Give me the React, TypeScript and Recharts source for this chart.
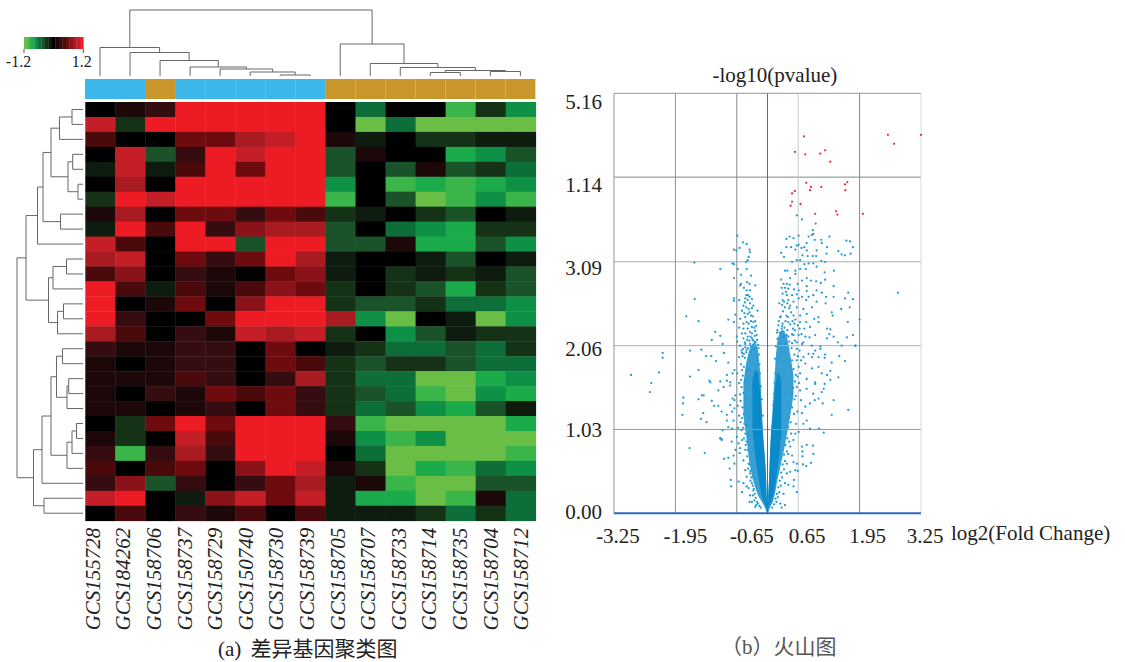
import { Area, Bar, BarChart, Cell, ComposedChart, ReferenceLine, Scatter, ScatterChart, XAxis, YAxis, ZAxis } from "recharts";

const SERIF = '"Liberation Serif", "Noto Sans CJK SC", serif';

const sampleNames = ["GCS155728", "GCS184262", "GCS158706", "GCS158737", "GCS158729", "GCS150740", "GCS158730", "GCS158739", "GCS158705", "GCS158707", "GCS158733", "GCS158714", "GCS158735", "GCS158704", "GCS158712"];
const sampleGroups = ["blue", "blue", "gold", "blue", "blue", "blue", "blue", "blue", "gold", "gold", "gold", "gold", "gold", "gold", "gold"];

// expression steps, -8 (green) .. 8 (red), one step is 0.15
const heatRows = [
  [0, 1, 2, 8, 8, 8, 8, 8, 0, -4, 0, 0, -7, -2, -5],
  [7, -2, 8, 8, 8, 8, 8, 8, 0, -8, -4, -8, -8, -8, -8],
  [3, 0, 0, 4, 4, 6, 7, 8, 1, -1, 0, -2, -2, -1, -1],
  [0, 7, -3, 2, 8, 7, 8, 8, -3, 1, 0, 0, -6, -5, -3],
  [-1, 7, -1, 3, 8, 4, 8, 8, -3, 0, -3, 1, -3, -2, -4],
  [0, 6, 0, 8, 8, 8, 8, 8, -5, 0, -7, -6, -7, -6, -5],
  [-2, 8, 7, 8, 8, 8, 8, 8, -7, 0, -3, -8, -7, -5, -7],
  [1, 6, 0, 4, 4, 2, 4, 3, -2, -1, 0, -2, -3, 0, -1],
  [-1, 8, 3, 8, 2, 5, 6, 6, -3, 0, -4, -5, -6, -2, -2],
  [7, 3, 0, 8, 8, -3, 8, 8, -3, -3, 1, -6, -6, -3, -5],
  [6, 7, 0, 4, 2, 4, 8, 6, -1, 0, 0, -1, -3, 0, -1],
  [3, 5, 0, 2, 1, 0, 4, 5, -1, 0, -2, -1, -2, -1, -3],
  [8, 3, -1, 3, 1, 3, 5, 4, -2, 0, -2, -3, -6, -2, -3],
  [8, 0, 1, 4, 0, 5, 8, 8, -2, -3, -3, -2, -4, -4, -5],
  [8, 2, 0, 0, 4, 8, 8, 8, 6, -5, -8, 0, -1, -8, -5],
  [6, 3, 0, 2, 1, 7, 6, 7, -2, 0, -5, -3, -1, -2, -2],
  [2, 1, 1, 2, 2, 0, 4, 0, -1, -2, -4, -4, -3, -4, -2],
  [1, 0, 1, 2, 2, 0, 4, 3, -2, -3, -2, -2, -3, -4, -4],
  [1, 1, 1, 3, 2, 0, 2, 6, -2, -4, -4, -8, -8, -6, -5],
  [1, 0, 2, 1, 4, 3, 4, 2, -2, -3, -4, -7, -8, -5, -6],
  [1, 1, 0, 1, 2, 0, 4, 2, -2, -4, -3, -5, -6, -3, -1],
  [0, -2, 4, 8, 4, 8, 8, 8, 2, -7, -8, -8, -8, -8, -6],
  [1, -2, 0, 7, 3, 8, 8, 8, 1, -5, -7, -5, -8, -8, -8],
  [2, -7, 2, 6, 2, 8, 8, 8, 0, -4, -8, -8, -8, -8, -7],
  [3, 0, 3, 4, 0, 5, 8, 7, 1, -2, -8, -6, -7, -4, -5],
  [2, 5, -3, 2, 0, 2, 4, 6, -1, 1, -7, -8, -8, -3, -3],
  [7, 8, 0, -1, 5, 7, 4, 7, -1, -6, -6, -8, -7, 1, -4],
  [0, 3, 0, 2, 1, 3, 0, 3, -1, -1, -1, -2, -4, -2, -4],
];

// [child, child, height], ids past the leaves are earlier merges
const colMerges = [
  [6, 7, 1], [5, 15, 4], [4, 16, 7], [3, 17, 9], [2, 18, 15.5], [1, 19, 23.5], [0, 20, 28.5],
  [11, 12, 3.5], [13, 14, 4.5], [22, 23, 5.5], [10, 24, 8.5], [9, 25, 12.5], [8, 26, 32], [21, 27, 66],
];
const rowMerges = [
  [0, 1, 11], [28, 2, 23.5], [3, 4, 10.3], [5, 6, 5], [30, 31, 15], [29, 32, 32], [7, 8, 22.5], [33, 34, 40], [35, 9, 45.5],
  [10, 11, 16.5], [37, 12, 30], [13, 14, 19.5], [39, 15, 25.5], [38, 40, 34.5], [36, 41, 57],
  [16, 17, 20.5], [18, 19, 14.3], [44, 20, 16], [43, 45, 26.5], [21, 22, 6.5], [47, 23, 11], [48, 24, 16], [46, 49, 32],
  [50, 25, 41], [26, 27, 39], [51, 52, 49.5], [42, 53, 66],
];

const redSteps = ["#000000", "#1c0808", "#350c10", "#4a0a0c", "#6e0b0e", "#8a1319", "#a71b21", "#c41f26", "#ed1c24"];
const greenSteps = ["#000000", "#0e1c0f", "#163216", "#1a5229", "#0e6e39", "#0f9047", "#1cab4b", "#39b54a", "#6abd45"];
const scaleSteps = [-8, -7, -6, -5, -4, -3, -2, -1, 0, 1, 2, 3, 4, 5, 6, 7, 8];
const scaleLabels = ["-1.2", "1.2"];
const scaleLabelShift = [-5.5, -1.5];
const groupColors: Record<string, string> = { blue: "#3db7e9", gold: "#c8962a" };

// volcano: [x, fringe low, fringe high, core low, core high]
const leftArm = [
  [-0.51, 1.2, 1.6], [-0.45, 0.95, 1.85], [-0.39, 0.65, 2.0],
  [-0.32, 0.43, 2.08, 1.03, 1.64], [-0.28, 0.36, 2.1, 0.83, 1.74], [-0.24, 0.28, 2.08, 0.62, 1.76], [-0.2, 0.22, 2.0, 0.46, 1.72],
  [-0.15, 0.17, 1.7, 0.3, 1.47], [-0.13, 0.15, 1.4, 0.22, 1.3], [-0.11, 0.13, 1.15, 0.19, 1.08], [-0.09, 0.11, 0.95, 0.16, 0.9],
  [-0.05, 0.065, 0.65, 0.1, 0.62], [-0.03, 0.04, 0.42, 0.065, 0.41], [-0.01, 0, 0.05, 0, 0.04],
];
const rightArm = [
  [0.015, 0, 0.2, 0, 0.2], [0.036, 0.05, 0.47, 0.08, 0.45], [0.057, 0.08, 0.8, 0.12, 0.75], [0.078, 0.1, 1.05, 0.15, 1],
  [0.1, 0.12, 1.2, 0.19, 1.15], [0.12, 0.15, 1.4, 0.22, 1.3], [0.163, 0.25, 1.8, 0.35, 1.55], [0.205, 0.4, 2.1, 0.52, 1.72],
  [0.248, 0.5, 2.2, 0.72, 1.72], [0.29, 0.62, 2.25, 0.95, 1.62], [0.35, 0.78, 2.25], [0.42, 1, 2.15], [0.48, 1.2, 1.95], [0.55, 1.45, 1.7],
];

const redPoints = [
  [0.77, 4.63], [0.58, 4.44], [0.8, 4.41], [1.115, 4.42], [1.22, 4.46], [1.33, 4.32], [2.55, 4.65], [2.68, 4.54], [3.25, 4.65],
  [0.82, 4.06], [0.92, 4.01], [0.9, 3.97], [1.14, 4.01], [1.69, 4.07], [1.64, 4.04], [1.65, 3.97], [0.52, 3.93], [0.58, 3.96],
  [0.52, 3.83], [0.49, 3.78], [0.7, 3.8], [1.01, 3.68], [1.45, 3.71], [1.48, 3.67], [2.02, 3.68],
];
const leftUpper = [
  [-0.64, 3.41], [-0.52, 3.33], [-0.44, 3.31], [-0.59, 3.26], [-0.71, 3.24], [-0.66, 3.23], [-0.38, 3.24], [-0.37, 3.21], [-0.4, 3.15], [-0.45, 3.09], [-0.42, 3.11],
  [-0.74, 3.07], [-0.71, 3.06], [-1.55, 3.08], [-1, 3], [-0.63, 3], [-0.44, 3], [-0.56, 2.93], [-0.71, 2.89], [-0.35, 2.92], [-0.56, 2.82], [-0.38, 2.82], [-0.58, 2.8],
  [-0.44, 2.74], [-0.37, 2.74], [-0.26, 2.8], [-0.45, 2.68], [-0.38, 2.66], [-0.71, 2.64], [-0.71, 2.61], [-1.54, 2.63], [-0.6, 2.62], [-0.47, 2.64], [-0.42, 2.62],
  [-0.37, 2.58], [-0.51, 2.55], [-0.3, 2.55], [-0.45, 2.53], [-0.4, 2.51], [-0.21, 2.49], [-0.54, 2.49], [-0.68, 2.44], [-1.72, 2.42], [-1.46, 2.36], [-0.83, 2.38],
  [-0.42, 2.45], [-0.47, 2.41], [-0.35, 2.43], [-0.58, 2.39], [-0.71, 2.35], [-0.51, 2.33], [-0.4, 2.33], [-0.3, 2.35], [-0.6, 2.28], [-0.51, 2.27], [-0.42, 2.27],
  [-0.33, 2.29], [-0.23, 2.19], [-1.11, 2.23], [-1, 2.18], [-1.18, 2.13], [-0.95, 2.08], [-0.65, 2.17], [-0.54, 2.21], [-0.47, 2.21], [-0.37, 2.23], [-0.26, 2.24],
  [-0.51, 2.15], [-0.42, 2.17], [-0.33, 2.15], [-0.28, 2.11], [-0.47, 2.08], [-0.37, 2.08], [-0.3, 2.06], [-0.64, 2.11], [-0.58, 2.06],
];
const rightUpper = [
  [0.62, 3.66], [0.73, 3.61], [1.02, 3.56], [0.96, 3.48], [0.97, 3.43], [0.94, 3.42], [0.87, 3.4], [0.47, 3.4], [0.4, 3.37], [0.55, 3.38], [0.66, 3.41], [0.83, 3.32],
  [1, 3.36], [1.14, 3.36], [1.15, 3.32], [1.31, 3.4], [1.67, 3.35], [1.75, 3.34], [1.81, 3.27], [0.66, 3.3], [0.62, 3.29], [1.26, 3.27], [0.5, 3.27], [0.59, 3.24],
  [0.4, 3.27], [0.72, 3.26], [0.83, 3.23], [1.04, 3.23], [0.78, 3.27], [0.29, 3.2], [0.35, 3.15], [0.74, 3.17], [0.85, 3.16], [0.96, 3.16], [1.03, 3.16], [1.25, 3.19],
  [1.5, 3.22], [1.57, 3.18], [1.64, 3.17], [1.76, 3.19], [0.62, 3.11], [0.69, 3.11], [0.52, 3.09], [0.78, 3.06], [0.87, 3.07], [0.97, 3.07], [1.14, 3.1], [1.22, 3.09],
  [0.37, 2.98], [0.42, 2.98], [0.59, 2.98], [0.69, 3], [0.81, 3], [1.04, 3.03], [1.21, 2.96], [1.41, 2.98], [0.59, 2.94], [0.48, 2.89], [0.73, 2.86], [0.83, 2.89],
  [0.92, 2.86], [1.03, 2.85], [1.13, 2.83], [1.22, 2.87], [0.41, 2.82], [0.34, 2.82], [0.47, 2.81], [0.64, 2.82], [0.83, 2.79], [1.4, 2.79], [0.3, 2.77], [0.37, 2.77],
  [0.44, 2.76], [0.56, 2.75], [0.66, 2.74], [0.83, 2.73], [1.04, 2.74], [1.15, 2.71], [1.24, 2.66], [1.4, 2.66], [1.71, 2.71], [1.81, 2.63], [1.64, 2.64], [0.32, 2.7],
  [0.41, 2.68], [0.52, 2.68], [0.62, 2.69], [0.73, 2.66], [0.87, 2.66], [0.97, 2.68], [0.32, 2.62], [0.44, 2.62], [0.55, 2.6], [0.66, 2.64], [0.82, 2.62], [1.04, 2.6],
  [1.23, 2.58], [1.56, 2.51], [1.74, 2.53], [0.37, 2.53], [0.48, 2.55], [0.62, 2.53], [0.76, 2.51], [0.94, 2.53], [1.36, 2.47], [1.38, 2.43], [1.95, 2.38], [1.7, 2.35],
  [0.27, 2.41], [0.4, 2.43], [0.55, 2.43], [0.69, 2.43], [0.83, 2.45], [1.08, 2.41], [0.23, 2.31], [0.32, 2.33], [0.44, 2.35], [0.57, 2.33], [0.69, 2.35], [0.82, 2.35],
  [0.99, 2.39], [1.08, 2.35], [0.21, 2.25], [0.3, 2.27], [0.42, 2.25], [0.54, 2.27], [0.68, 2.27], [0.78, 2.27], [0.9, 2.29], [1.26, 2.27], [1.33, 2.26], [1.01, 2.19],
  [0.23, 2.15], [0.34, 2.17], [0.44, 2.17], [0.55, 2.19], [0.66, 2.19], [0.8, 2.17], [0.89, 2.16], [1.26, 2.15], [1.31, 2.2], [1.4, 2.17], [1.68, 2.16], [1.81, 2.19],
  [0.27, 2.08], [0.37, 2.08], [0.52, 2.09], [0.62, 2.1], [0.76, 2.1], [1.12, 2.05], [1.49, 2.1], [1.86, 2.06], [2.76, 2.71],
];
const leftLower = [
  [-2.22, 1.97], [-2.22, 1.91], [-2.89, 1.7], [-2.3, 1.73], [-2.46, 1.6], [-2.49, 1.49], [-1.64, 2], [-1.4, 2.01], [-1.3, 1.93], [-1.19, 1.93], [-1.09, 1.87], [-0.92, 1.97],
  [-0.83, 1.85], [-1.46, 1.76], [-1.64, 1.68], [-1.23, 1.63], [-1.21, 1.61], [-0.86, 1.7], [-0.74, 1.72], [-0.7, 1.76], [-1, 1.62], [-0.86, 1.63], [-0.79, 1.61], [-0.79, 1.57],
  [-0.93, 1.55], [-1.04, 1.51], [-1.39, 1.45], [-1.35, 1.45], [-1.46, 1.4], [-1.78, 1.42], [-1.79, 1.35], [-1.8, 1.21], [-1.18, 1.38], [-1.13, 1.32], [-1.04, 1.32], [-1.36, 1.23],
  [-1.41, 1.16], [-1.29, 1.12], [-0.97, 1.25], [-0.86, 1.21], [-0.86, 1.14], [-0.75, 1.25], [-0.74, 1.41], [-0.7, 1.39], [-0.79, 1.33], [-0.83, 1.06], [-0.95, 1.02], [-1, 0.92],
  [-0.97, 0.91], [-0.72, 1.14], [-0.7, 1.29], [-0.75, 1.04], [-0.68, 1.45], [-1, 0.92], [-0.97, 0.9], [-1.65, 0.8], [-1.33, 0.74], [-0.92, 0.67], [-0.83, 0.68], [-0.76, 0.88],
  [-0.68, 0.78], [-0.72, 0.71], [-0.7, 0.61], [-0.8, 0.55], [-0.78, 0.41], [-0.77, 0.33], [-0.61, 0.39], [-0.54, 0.26], [-0.61, 0.86], [-0.59, 0.74], [-0.54, 0.9], [-0.58, 0.8],
  [-0.51, 0.65], [-0.47, 0.53], [-0.44, 0.45], [-0.51, 0.37], [-0.4, 0.31], [-0.37, 0.22], [-0.33, 0.14], [-0.26, 0.08], [-0.38, 0.14], [-0.44, 0.33], [-0.65, 0.94], [-0.47, 0.78],
  [-0.4, 0.61], [-0.37, 0.49], [-0.33, 0.37], [-0.3, 0.28], [-0.62, 1.05], [-0.6, 1.2], [-0.63, 1.32], [-0.58, 1.46], [-0.6, 1.6], [-0.57, 1.12], [-0.55, 1.02], [-0.64, 1.72],
  [-0.56, 1.83], [-0.6, 1.92], [-0.54, 1.97],
];
const rightLower = [
  [0.73, 2.08], [0.94, 2.06], [1.86, 2.06], [1.57, 2.06], [1.22, 1.95], [1.01, 2], [0.87, 1.96], [0.76, 1.92], [1.52, 1.93], [1.64, 1.87], [1.36, 1.85], [1.21, 1.91], [1.08, 1.92],
  [0.94, 1.92], [0.8, 1.84], [0.94, 1.78], [1.08, 1.8], [1.33, 1.75], [1.15, 1.72], [1.26, 1.7], [1.5, 1.67], [1.33, 1.64], [0.83, 1.65], [1.01, 1.61], [1.21, 1.59], [1.01, 1.59],
  [0.83, 1.53], [1.19, 1.53], [1.15, 1.49], [0.97, 1.47], [1.4, 1.39], [1.08, 1.41], [1.17, 1.35], [0.9, 1.35], [1, 1.39], [1.71, 1.27], [1.36, 1.21], [0.8, 1.31], [0.73, 1.23],
  [0.83, 1.14], [0.76, 1.1], [0.9, 1.04], [1.09, 1.04], [1.19, 0.99], [0.71, 1.39], [0.69, 1.51], [0.69, 1.72], [0.71, 1.88], [0.97, 1.96], [1.12, 2.02], [0.73, 0.82], [0.83, 0.84],
  [0.96, 0.83], [0.97, 0.73], [0.74, 0.76], [0.74, 0.7], [0.75, 0.6], [0.82, 0.58], [0.92, 0.62], [0.59, 0.98], [0.66, 1], [0.55, 0.9], [0.48, 0.82], [0.44, 0.73], [0.55, 0.63],
  [0.62, 0.61], [0.59, 0.53], [0.48, 0.51], [0.41, 0.49], [0.55, 0.33], [0.44, 0.35], [0.37, 0.37], [0.34, 0.24], [0.27, 0.12], [0.37, 0.1], [0.3, 0.07], [0.41, 0.61], [0.52, 0.71],
  [0.64, 0.52], [0.56, 0.41], [0.62, 0.26], [0.6, 1.1], [0.63, 1.25], [0.57, 1.4], [0.62, 1.55], [0.6, 1.7], [0.66, 1.8],
];
// stipple read along the two arms, where single dots still show
const leftStipple = [
  [-0.52, 2.02], [-0.47, 2.04], [-0.41, 2.03], [-0.35, 2.05], [-0.28, 2.02], [-0.24, 2.04], [-0.55, 2], [-0.44, 2.01], [-0.38, 2.12], [-0.31, 2.13], [-0.25, 2.1], [-0.2, 2.07],
  [-0.5, 1.96], [-0.45, 1.98], [-0.48, 2.1], [-0.43, 2.13], [-0.36, 2.17], [-0.33, 2.21], [-0.27, 2.18], [-0.22, 2.13], [-0.53, 1.93], [-0.48, 1.91], [-0.28, 2.28], [-0.35, 2.36],
  [-0.31, 2.42], [-0.38, 2.47], [-0.44, 2.35], [-0.49, 2.46], [-0.33, 2.52], [-0.48, 2.59], [-0.41, 2.68], [-0.33, 2.63], [-0.43, 2.84], [-0.5, 2.77], [-0.26, 2.36], [-0.24, 2.3],
  [-0.18, 1.95], [-0.17, 1.83], [-0.16, 1.72], [-0.14, 1.56], [-0.12, 1.4], [-0.1, 1.2], [-0.22, 1.92], [-0.19, 2.03], [-0.54, 1.76], [-0.52, 1.69], [-0.56, 1.64], [-0.5, 1.8],
  [-0.55, 1.55], [-0.51, 1.48], [-0.57, 1.38], [-0.53, 1.3], [-0.5, 1.22], [-0.54, 1.17], [-0.49, 1.1], [-0.52, 1.05], [-0.47, 0.98], [-0.5, 0.92], [-0.44, 0.88], [-0.46, 0.84],
  [-0.42, 0.78], [-0.43, 0.7], [-0.38, 0.6], [-0.41, 0.55], [-0.36, 0.52], [-0.34, 0.44], [-0.36, 0.4], [-0.31, 0.34], [-0.29, 0.3], [-0.27, 0.24], [-0.31, 0.22], [-0.25, 0.19],
  [-0.28, 0.16], [-0.22, 0.14], [-0.2, 0.12], [-0.24, 0.1], [-0.17, 0.09], [-0.14, 0.07], [-0.41, 0.95], [-0.45, 1.08], [-0.48, 1.3], [-0.46, 1.42], [-0.47, 1.62], [-0.44, 1.76],
];
const rightStipple = [
  [0.21, 2.14], [0.26, 2.22], [0.31, 2.3], [0.36, 2.28], [0.41, 2.19], [0.46, 2.11], [0.51, 2.03], [0.57, 1.95], [0.24, 2.36], [0.28, 2.42], [0.33, 2.48], [0.38, 2.36], [0.43, 2.41],
  [0.48, 2.32], [0.52, 2.2], [0.58, 2.12], [0.62, 2.02], [0.64, 1.93], [0.25, 2.58], [0.35, 2.6], [0.39, 2.72], [0.29, 2.87], [0.5, 2.47], [0.59, 2.38], [0.64, 2.31], [0.72, 2.2],
  [0.2, 1.96], [0.19, 1.86], [0.17, 1.72], [0.15, 1.6], [0.14, 1.47], [0.12, 1.33], [0.18, 2.05], [0.16, 1.9], [0.52, 1.88], [0.55, 1.77], [0.5, 1.7], [0.58, 1.62], [0.54, 1.54],
  [0.5, 1.46], [0.47, 1.34], [0.52, 1.3], [0.56, 1.22], [0.46, 1.18], [0.49, 1.12], [0.44, 1.06], [0.5, 0.98], [0.42, 0.92], [0.46, 0.88], [0.38, 0.84], [0.41, 0.76], [0.35, 0.72],
  [0.37, 0.64], [0.32, 0.6], [0.35, 0.54], [0.29, 0.5], [0.31, 0.44], [0.26, 0.4], [0.28, 0.34], [0.23, 0.32], [0.25, 0.26], [0.2, 0.24], [0.22, 0.2], [0.17, 0.18], [0.19, 0.14],
  [0.14, 0.11], [0.1, 0.07], [0.6, 1.44], [0.64, 1.68], [0.67, 1.6], [0.62, 1.88], [0.68, 2], [0.58, 2.25], [0.53, 2.36], [0.46, 2.52], [0.42, 2.58], [0.31, 2.56], [0.2, 2.22],
];

const xTicks = [-3.25, -1.95, -0.65, 0.65, 1.95, 3.25];
const yTicks = [0, 1.03, 2.06, 3.09, 4.13, 5.16];
const yTickLabels = ["0.00", "1.03", "2.06", "3.09", "1.14", "5.16"];
const xTickShift = [4, 10, 15, 9, 8, 4];
const yTickShift = [-1, 0.5, 3, 6, 8, 9];
const verticalLines = [
  { x: -3.25, stroke: "#8d9498" }, { x: -1.95, stroke: "#8d9498" }, { x: -0.65, stroke: "#7f8a90" }, { x: 0, stroke: "#66667f" },
  { x: 0.65, stroke: "#c4c8c9" }, { x: 1.95, stroke: "#7f8a90" }, { x: 3.25, stroke: "#d8dcdc" },
];
const horizontalLines = [
  { y: 5.16, stroke: "#8f989c" }, { y: 4.13, stroke: "#7d868c" }, { y: 3.09, stroke: "#a8b0b3" }, { y: 2.06, stroke: "#a8b0b3" }, { y: 1.03, stroke: "#8f989c" },
];

const stepColor = (step: number) => (step >= 0 ? redSteps[step] : greenSteps[-step]);

const heatCells = heatRows.flatMap((row, r) => row.map((step, c) => ({ col: c + 0.5, row: r + 0.5, step })));

function brackets(merges: number[][], leaves: number) {
  const pos: number[] = Array.from({ length: leaves }, (_, i) => i + 0.5);
  const dist: number[] = Array.from({ length: leaves }, () => 0);
  return merges.map(([a, b, h]) => {
    pos.push((pos[a] + pos[b]) / 2);
    dist.push(h);
    return [
      { pos: pos[a], dist: dist[a] },
      { pos: pos[a], dist: h },
      { pos: pos[b], dist: h },
      { pos: pos[b], dist: dist[b] },
    ];
  });
}

const armRows = [
  ...leftArm.map(([x, lo, hi, cLo, cHi]) => ({ x, leftFringe: [lo, hi], leftCore: cLo === undefined ? undefined : [cLo, cHi] })),
  ...rightArm.map(([x, lo, hi, cLo, cHi]) => ({ x, rightFringe: [lo, hi], rightCore: cLo === undefined ? undefined : [cLo, cHi] })),
];
const toPoint = ([x, y]: number[]) => ({ x, y });
const bluePoints = [...leftUpper, ...rightUpper, ...leftLower, ...rightLower, ...leftStipple, ...rightStipple].map(toPoint);

const noDot = () => <g />;

function HeatTile({ cx, cy, payload }: any) {
  const w = 450.4 / 15;
  const h = 418.7 / 28;
  return <rect x={cx - w / 2} y={cy - h / 2} width={w + 0.4} height={h + 0.4} fill={stepColor(payload.step)} />;
}

function ScaleTile({ cx, cy, payload }: any) {
  const w = 59.3 / 17;
  return <rect x={cx - w / 2} y={cy - 6} width={w + 0.3} height={12} fill={stepColor(payload.step)} />;
}

function ScaleTick({ x, y, index }: any) {
  return (
    <text x={x + scaleLabelShift[index]} y={y} dy={12} textAnchor="middle" fontFamily={SERIF} fontSize={16} fill="#222">
      {scaleLabels[index]}
    </text>
  );
}

function SampleTick({ x, y, index, payload }: any) {
  const bx = x - 0.5 + index * 0.57;
  return (
    <text x={bx} y={y} transform={`rotate(-90 ${bx} ${y})`} textAnchor="end" fontFamily={SERIF} fontStyle="italic" fontSize={21} fill="#222">
      {sampleNames[Math.floor(payload.value)]}
    </text>
  );
}

function VolcanoXTick({ x, y, index }: any) {
  return (
    <text x={x + xTickShift[index]} y={y} dy={22} textAnchor="middle" fontFamily={SERIF} fontSize={21} fill="#222">
      {xTicks[index].toFixed(2)}
    </text>
  );
}

function VolcanoYTick({ x, y, index }: any) {
  return (
    <text x={x} y={y + yTickShift[index]} dy={7} textAnchor="end" fontFamily={SERIF} fontSize={21} fill="#222">
      {yTickLabels[index]}
    </text>
  );
}

function Caption({ left, top, color, spacing, children }: any) {
  return (
    <div style={{ position: "absolute", left, top, fontFamily: SERIF, fontSize: 21, lineHeight: "24px", wordSpacing: spacing || 0, whiteSpace: "nowrap", color: color || "#222" }}>
      {children}
    </div>
  );
}

export default function App() {
  const sampleTicks = sampleNames.map((_, i) => i + 0.5);
  return (
    <div style={{ position: "absolute", left: 0, top: 0, width: 1125, height: 662, background: "#fff", overflow: "hidden" }}>
      {/* colour scale */}
      <div style={{ position: "absolute", left: 4, top: 37 }}>
        <ScatterChart width={100} height={38} margin={{ top: 0, right: 20.7, bottom: 0, left: 20 }}>
          <XAxis
            type="number"
            dataKey="x"
            domain={[-8.5, 8.5]}
            ticks={[-8.5, 8.5]}
            height={26}
            axisLine={false}
            tickSize={4}
            stroke="#555"
            tick={ScaleTick}
            interval={0}
          />
          <YAxis type="number" dataKey="y" domain={[0, 1]} hide />
          <Scatter data={scaleSteps.map((step) => ({ x: step, y: 0.5, step }))} shape={ScaleTile} isAnimationActive={false} />
        </ScatterChart>
      </div>

      {/* column tree */}
      <div style={{ position: "absolute", left: 83.3, top: 8 }}>
        <ScatterChart width={454.4} height={70} margin={{ top: 2, right: 2, bottom: 2, left: 2 }}>
          <XAxis type="number" dataKey="pos" domain={[0, 15]} hide />
          <YAxis type="number" dataKey="dist" domain={[0, 66]} hide />
          {brackets(colMerges, 15).map((pts, i) => (
            <Scatter key={i} data={pts} line={{ stroke: "#666", strokeWidth: 1 }} shape={noDot} isAnimationActive={false} />
          ))}
        </ScatterChart>
      </div>

      {/* sample group strip */}
      <div style={{ position: "absolute", left: 85.3, top: 78.7 }}>
        <BarChart width={450.4} height={20} data={sampleGroups.map((g) => ({ g, v: 1 }))} barCategoryGap={0} margin={{ top: 0, right: 0, bottom: 0, left: 0 }}>
          <XAxis dataKey="g" hide />
          <YAxis domain={[0, 1]} hide />
          <Bar dataKey="v" isAnimationActive={false}>
            {sampleGroups.map((g, i) => (
              <Cell key={i} fill={groupColors[g]} />
            ))}
          </Bar>
        </BarChart>
      </div>

      {/* row tree */}
      <div style={{ position: "absolute", left: 15, top: 100 }}>
        <ScatterChart width={70} height={422.7} margin={{ top: 2, right: 2, bottom: 2, left: 2 }}>
          <XAxis type="number" dataKey="dist" domain={[0, 66]} reversed hide />
          <YAxis type="number" dataKey="pos" domain={[0, 28]} reversed hide />
          {brackets(rowMerges, 28).map((pts, i) => (
            <Scatter key={i} data={pts} line={{ stroke: "#666", strokeWidth: 1 }} shape={noDot} isAnimationActive={false} />
          ))}
        </ScatterChart>
      </div>

      {/* heat map */}
      <div style={{ position: "absolute", left: 0, top: 92 }}>
        <ScatterChart width={560} height={548} margin={{ top: 10, right: 24.3, bottom: 0, left: 85.3 }}>
          <XAxis
            type="number"
            dataKey="col"
            domain={[0, 15]}
            ticks={sampleTicks}
            interval={0}
            height={119.3}
            axisLine={false}
            tickLine={false}
            tickSize={0}
            tickMargin={7}
            tick={SampleTick}
          />
          <YAxis type="number" dataKey="row" domain={[0, 28]} reversed hide />
          <Scatter data={heatCells} shape={HeatTile} isAnimationActive={false} />
        </ScatterChart>
      </div>

      {/* volcano */}
      <div style={{ position: "absolute", left: 540, top: 60 }}>
        <ComposedChart width={585} height={500} data={armRows} margin={{ top: 33.3, right: 204, bottom: 6.7, left: 14 }}>
          <XAxis type="number" dataKey="x" domain={[-3.25, 3.25]} ticks={xTicks} interval={0} height={40} axisLine={false} tickLine={false} tick={VolcanoXTick} />
          <YAxis type="number" dataKey="y" domain={[0, 5.16]} ticks={yTicks} interval={0} width={60} axisLine={false} tickLine={false} tickMargin={6} tick={VolcanoYTick} />
          <ZAxis range={[4, 4]} />
          {horizontalLines.map((l) => (
            <ReferenceLine key={l.y} y={l.y} stroke={l.stroke} strokeWidth={1} />
          ))}
          {verticalLines.map((l) => (
            <ReferenceLine key={l.x} x={l.x} stroke={l.stroke} strokeWidth={1} />
          ))}
          <ReferenceLine y={0} stroke="#2d6cb0" strokeWidth={2} />
          <Area dataKey="leftFringe" stroke="none" fill="#0a8ac9" fillOpacity={0.82} dot={false} activeDot={false} isAnimationActive={false} />
          <Area dataKey="rightFringe" stroke="none" fill="#0a8ac9" fillOpacity={0.82} dot={false} activeDot={false} isAnimationActive={false} />
          <Area dataKey="leftCore" stroke="none" fill="#0a8ac9" fillOpacity={1} dot={false} activeDot={false} isAnimationActive={false} />
          <Area dataKey="rightCore" stroke="none" fill="#0a8ac9" fillOpacity={1} dot={false} activeDot={false} isAnimationActive={false} />
          <Scatter data={bluePoints} fill="#1e9ad6" isAnimationActive={false} />
          <Scatter data={redPoints.map(toPoint)} fill="#ee2a3a" isAnimationActive={false} />
        </ComposedChart>
      </div>

      <Caption left={712.5} top={63}>-log10(pvalue)</Caption>
      <Caption left={951} top={521}>log2(Fold Change)</Caption>
      <Caption left={218} top={637} spacing={4}>(a) 差异基因聚类图</Caption>
      <Caption left={721} top={635} color="#555">（b）火山图</Caption>
    </div>
  );
}
